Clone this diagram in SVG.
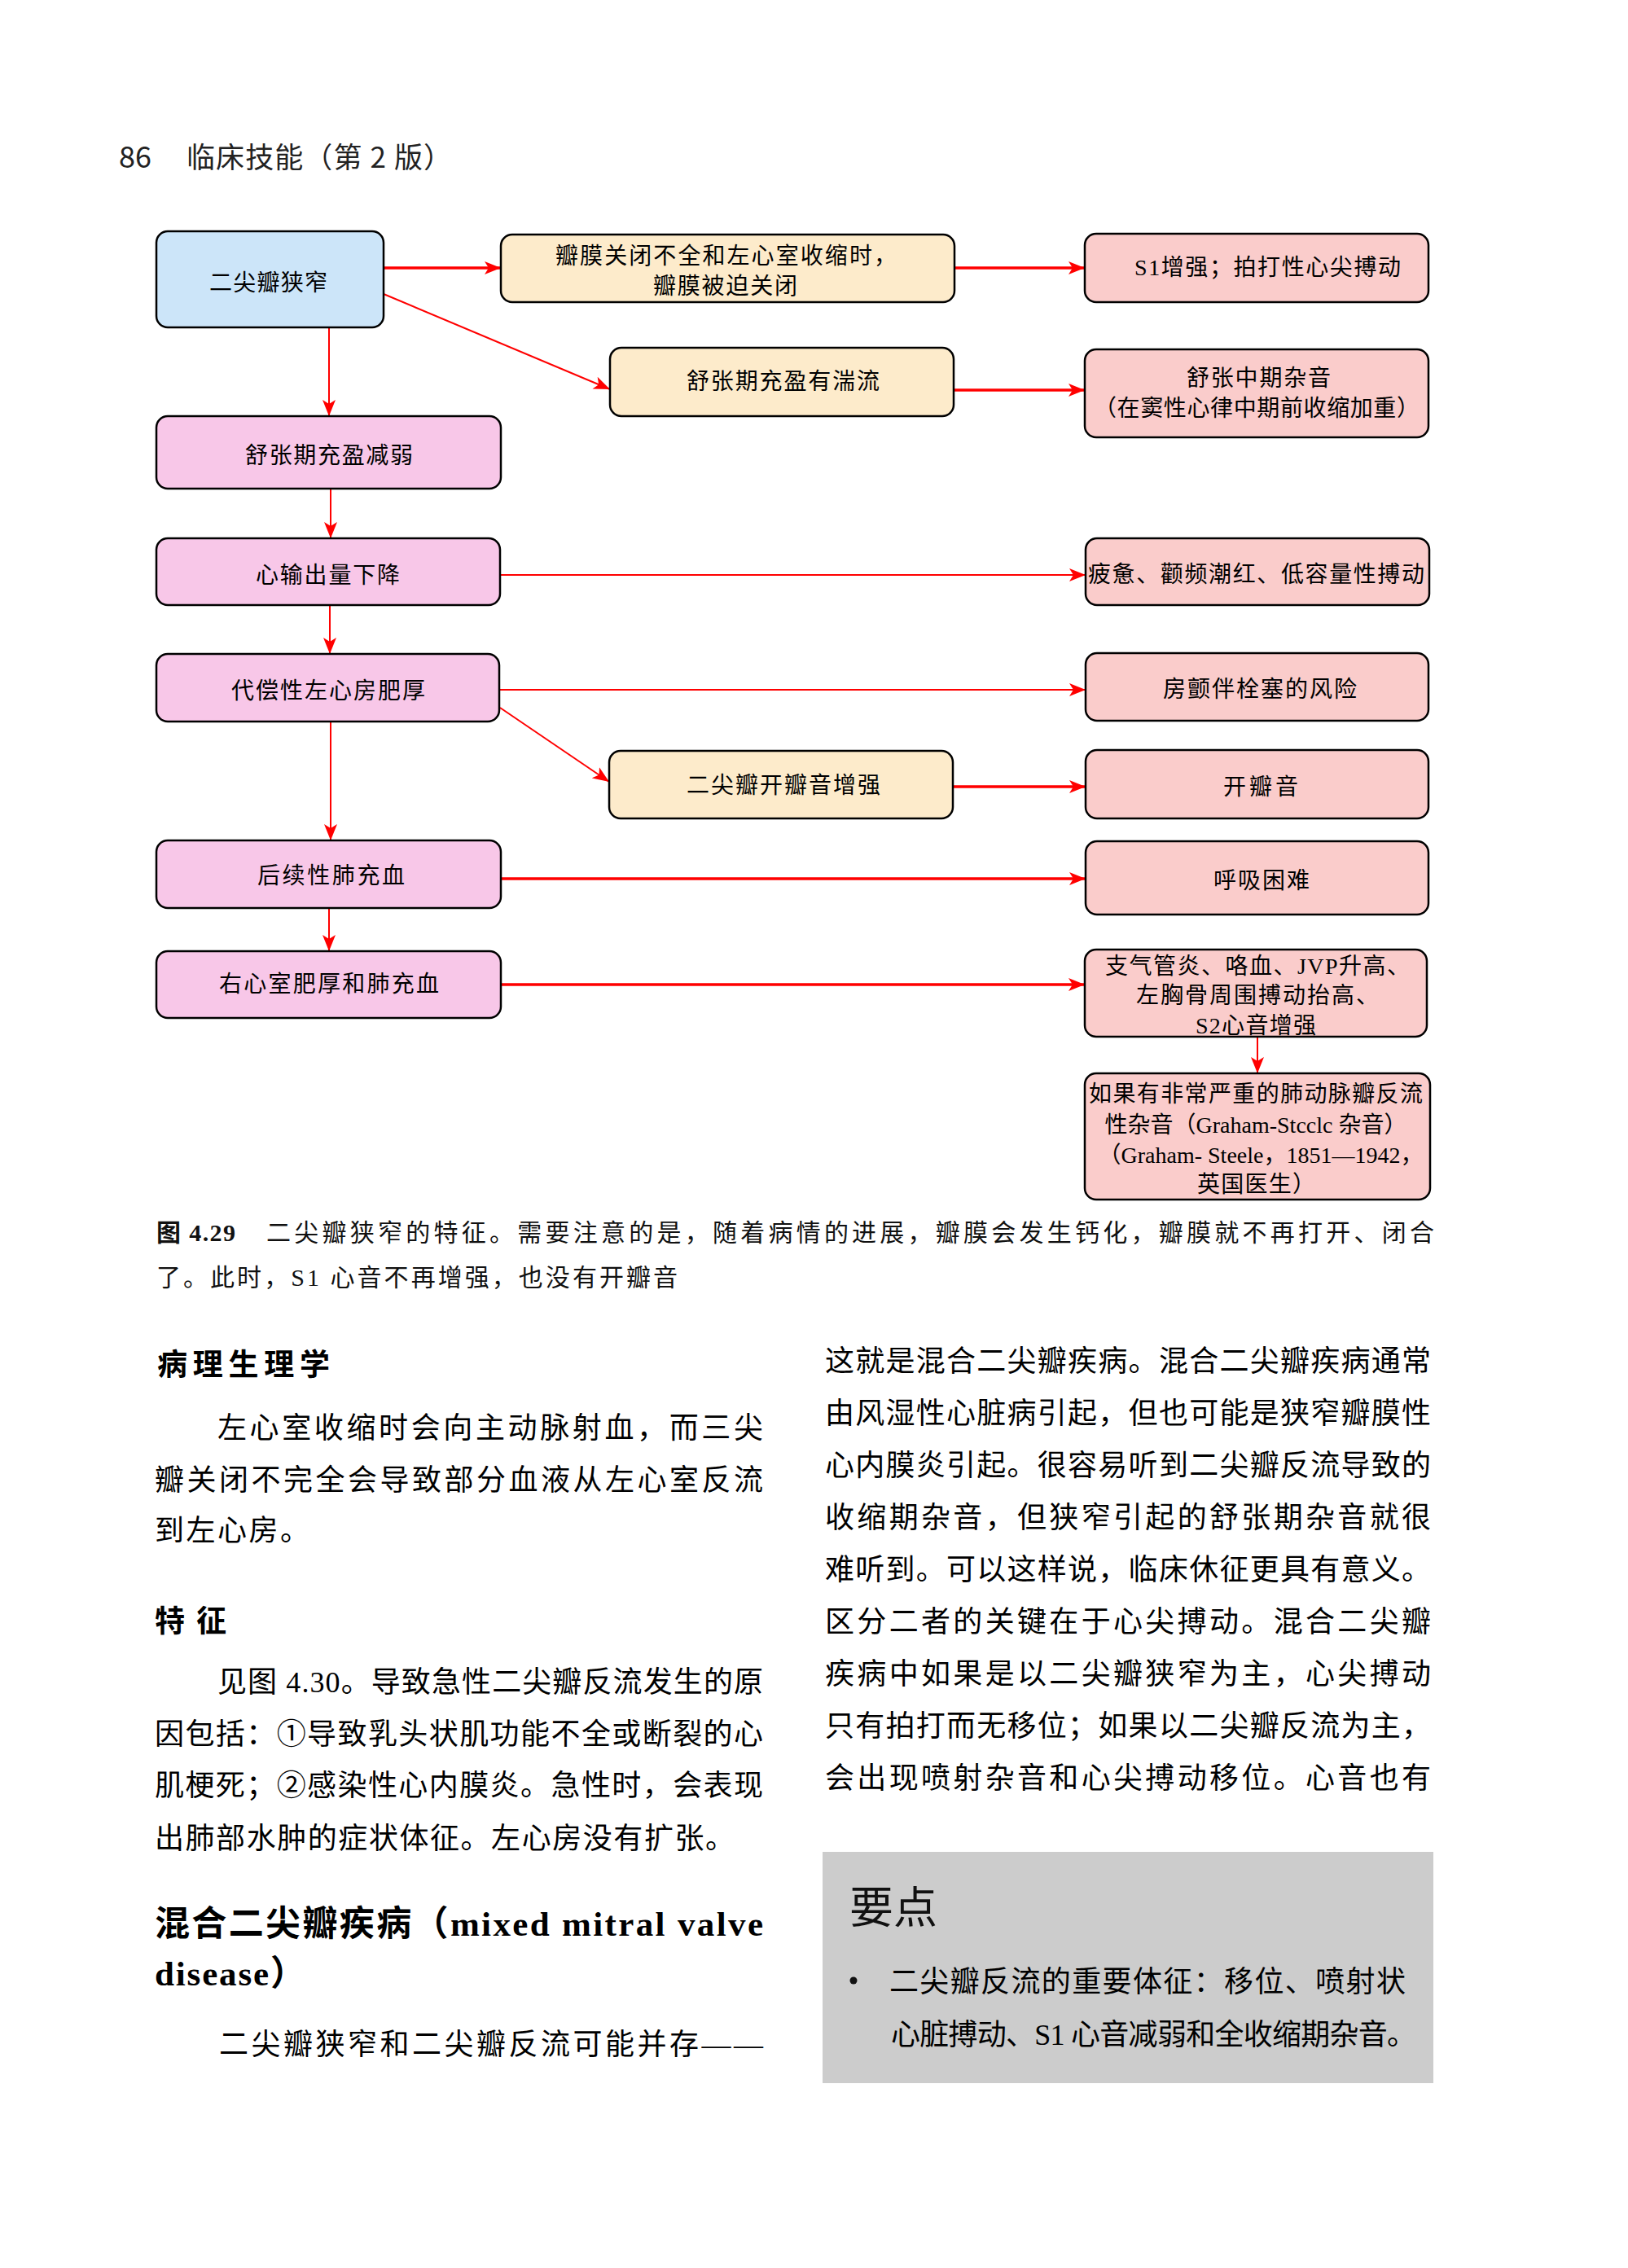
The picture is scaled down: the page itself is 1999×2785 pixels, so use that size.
<svg xmlns="http://www.w3.org/2000/svg" width="1999" height="2785" viewBox="0 0 1999 2785">
<style>
.nd{stroke:#000;stroke-width:2.5}
.blue{fill:#CCE5F9}
.cream{fill:#FDEBCB}
.pink{fill:#F8C7E8}
.salmon{fill:#FACCCB}
.t{font-family:"Liberation Serif","Noto Sans CJK SC",serif;font-size:28px;fill:#000}
.body{font-family:"Liberation Serif","Noto Sans CJK SC",serif;font-size:36px;fill:#000}
.cap{font-family:"Liberation Serif","Noto Sans CJK SC",serif;font-size:30px;fill:#111}
.hd{font-family:"Liberation Serif","Noto Sans CJK SC",serif;font-weight:bold;fill:#000}
.thin{stroke:#FF0000;stroke-width:2;fill:none}
.thick{stroke:#FF0000;stroke-width:3.5;fill:none}
</style>
<defs>
<marker id="ah" markerUnits="userSpaceOnUse" markerWidth="22" markerHeight="18" refX="20" refY="8" orient="auto" viewBox="0 0 22 16">
<path d="M0,0 L20,8 L0,16 L5,8 Z" fill="#FF0000"/>
</marker>
</defs>
<rect width="1999" height="2785" fill="#fff"/>

<!-- header -->
<text x="146" y="206" font-family="Noto Sans CJK SC,sans-serif" font-size="36" fill="#222">86</text>
<text x="229" y="206" font-family="Noto Sans CJK SC,sans-serif" font-size="35" fill="#222" textLength="326">临床技能（第 2 版）</text>

<!-- connectors -->
<g id="connectors">
<line class="thick" x1="471" y1="329" x2="615" y2="329" marker-end="url(#ah)"/>
<line class="thick" x1="1172" y1="329" x2="1332" y2="329" marker-end="url(#ah)"/>
<line class="thin" x1="471" y1="361" x2="749" y2="478" marker-end="url(#ah)"/>
<line class="thick" x1="1171" y1="479" x2="1332" y2="479" marker-end="url(#ah)"/>
<line class="thin" x1="404" y1="402" x2="404" y2="511" marker-end="url(#ah)"/>
<line class="thin" x1="406" y1="600" x2="406" y2="661" marker-end="url(#ah)"/>
<line class="thin" x1="614" y1="706" x2="1333" y2="706" marker-end="url(#ah)"/>
<line class="thin" x1="405" y1="743" x2="405" y2="803" marker-end="url(#ah)"/>
<line class="thin" x1="613" y1="847" x2="1333" y2="847" marker-end="url(#ah)"/>
<line class="thin" x1="614" y1="869" x2="748" y2="960" marker-end="url(#ah)"/>
<line class="thick" x1="1170" y1="966" x2="1333" y2="966" marker-end="url(#ah)"/>
<line class="thin" x1="406" y1="886" x2="406" y2="1032" marker-end="url(#ah)"/>
<line class="thick" x1="615" y1="1079" x2="1333" y2="1079" marker-end="url(#ah)"/>
<line class="thin" x1="404" y1="1115" x2="404" y2="1168" marker-end="url(#ah)"/>
<line class="thick" x1="615" y1="1209" x2="1332" y2="1209" marker-end="url(#ah)"/>
<line class="thin" x1="1544" y1="1273" x2="1544" y2="1318" marker-end="url(#ah)"/>
</g>

<!-- nodes -->
<g id="nodeA"><rect class="nd blue" x="192" y="284" width="279" height="118" rx="14"/>
<text class="t" x="257" y="357" textLength="145">二尖瓣狭窄</text></g>

<g id="nodeB"><rect class="nd cream" x="615" y="288" width="557" height="83" rx="14"/>
<text class="t" x="682" y="324" textLength="419">瓣膜关闭不全和左心室收缩时，</text>
<text class="t" x="802" y="361" textLength="177">瓣膜被迫关闭</text></g>

<g id="nodeC"><rect class="nd salmon" x="1332" y="287" width="422" height="84" rx="14"/>
<text class="t" x="1393" y="338" textLength="327">S1增强；拍打性心尖搏动</text></g>

<g id="nodeD"><rect class="nd cream" x="749" y="427" width="422" height="84" rx="14"/>
<text class="t" x="843" y="478" textLength="237">舒张期充盈有湍流</text></g>

<g id="nodeE"><rect class="nd salmon" x="1332" y="429" width="422" height="108" rx="14"/>
<text class="t" x="1457" y="474" textLength="177">舒张中期杂音</text>
<text class="t" x="1543" y="511" text-anchor="middle" textLength="400">（在窦性心律中期前收缩加重）</text></g>

<g id="nodeF"><rect class="nd pink" x="192" y="511" width="423" height="89" rx="14"/>
<text class="t" x="301" y="569" textLength="206">舒张期充盈减弱</text></g>

<g id="nodeG"><rect class="nd pink" x="192" y="661" width="422" height="82" rx="14"/>
<text class="t" x="314" y="716" textLength="177">心输出量下降</text></g>

<g id="nodeH"><rect class="nd salmon" x="1333" y="661" width="422" height="82" rx="14"/>
<text class="t" x="1336" y="715" textLength="413">疲惫、颧频潮红、低容量性搏动</text></g>

<g id="nodeI"><rect class="nd pink" x="192" y="803" width="421" height="83" rx="14"/>
<text class="t" x="284" y="858" textLength="238">代偿性左心房肥厚</text></g>

<g id="nodeJ"><rect class="nd salmon" x="1333" y="802" width="421" height="83" rx="14"/>
<text class="t" x="1428" y="856" textLength="238">房颤伴栓塞的风险</text></g>

<g id="nodeK"><rect class="nd cream" x="748" y="922" width="422" height="83" rx="14"/>
<text class="t" x="843" y="974" textLength="238">二尖瓣开瓣音增强</text></g>

<g id="nodeL"><rect class="nd salmon" x="1333" y="921" width="421" height="84" rx="14"/>
<text class="t" x="1502" y="976" textLength="92">开瓣音</text></g>

<g id="nodeM"><rect class="nd pink" x="192" y="1032" width="423" height="83" rx="14"/>
<text class="t" x="316" y="1085" textLength="181">后续性肺充血</text></g>

<g id="nodeN"><rect class="nd salmon" x="1333" y="1033" width="421" height="90" rx="14"/>
<text class="t" x="1490" y="1091" textLength="118">呼吸困难</text></g>

<g id="nodeO"><rect class="nd pink" x="192" y="1168" width="423" height="82" rx="14"/>
<text class="t" x="269" y="1218" textLength="270">右心室肥厚和肺充血</text></g>

<g id="nodeP"><rect class="nd salmon" x="1332" y="1166" width="420" height="107" rx="14"/>
<text class="t" x="1357" y="1196" textLength="374">支气管炎、咯血、JVP升高、</text>
<text class="t" x="1395" y="1232" textLength="298">左胸骨周围搏动抬高、</text>
<text class="t" x="1468" y="1269" textLength="148">S2心音增强</text></g>

<g id="nodeQ"><rect class="nd salmon" x="1332" y="1318" width="424" height="155" rx="14"/>
<text class="t" x="1337" y="1353" textLength="410">如果有非常严重的肺动脉瓣反流</text>
<text class="t" x="1542" y="1391" text-anchor="middle">性杂音（Graham-Stcclc 杂音）</text>
<text class="t" x="1548" y="1428" text-anchor="middle">（Graham- Steele，1851—1942，</text>
<text class="t" x="1470" y="1464" textLength="145">英国医生）</text></g>

<!-- caption -->
<text class="cap" x="192" y="1524" font-weight="bold" textLength="97">图 4.29</text>
<text class="cap" x="327" y="1524" textLength="1434">二尖瓣狭窄的特征。需要注意的是，随着病情的进展，瓣膜会发生钙化，瓣膜就不再打开、闭合</text>
<text class="cap" x="192" y="1579" textLength="640">了。此时，S1 心音不再增强，也没有开瓣音</text>

<!-- left column -->
<text class="hd" x="193" y="1689" font-size="37" textLength="212">病理生理学</text>
<text class="body" x="267" y="1766" textLength="670">左心室收缩时会向主动脉射血，而三尖</text>
<text class="body" x="190" y="1830" textLength="747">瓣关闭不完全会导致部分血液从左心室反流</text>
<text class="body" x="190" y="1892" textLength="190">到左心房。</text>
<text class="hd" x="190" y="2004" font-size="37" textLength="88">特征</text>
<text class="body" x="267" y="2078" textLength="670">见图 4.30。导致急性二尖瓣反流发生的原</text>
<text class="body" x="190" y="2142" textLength="747">因包括：①导致乳头状肌功能不全或断裂的心</text>
<text class="body" x="190" y="2205" textLength="747">肌梗死；②感染性心内膜炎。急性时，会表现</text>
<text class="body" x="190" y="2270" textLength="712">出肺部水肿的症状体征。左心房没有扩张。</text>
<text class="hd" x="190" y="2377" font-size="43" textLength="747">混合二尖瓣疾病（mixed mitral valve</text>
<text class="hd" x="190" y="2438" font-size="43" textLength="185">disease）</text>
<text class="body" x="269" y="2523" textLength="668">二尖瓣狭窄和二尖瓣反流可能并存——</text>

<!-- right column -->
<text class="body" x="1013" y="1684" textLength="744">这就是混合二尖瓣疾病。混合二尖瓣疾病通常</text>
<text class="body" x="1013" y="1748" textLength="744">由风湿性心脏病引起，但也可能是狭窄瓣膜性</text>
<text class="body" x="1013" y="1812" textLength="744">心内膜炎引起。很容易听到二尖瓣反流导致的</text>
<text class="body" x="1013" y="1876" textLength="744">收缩期杂音，但狭窄引起的舒张期杂音就很</text>
<text class="body" x="1013" y="1940" textLength="744">难听到。可以这样说，临床休征更具有意义。</text>
<text class="body" x="1013" y="2004" textLength="744">区分二者的关键在于心尖搏动。混合二尖瓣</text>
<text class="body" x="1013" y="2068" textLength="744">疾病中如果是以二尖瓣狭窄为主，心尖搏动</text>
<text class="body" x="1013" y="2132" textLength="744">只有拍打而无移位；如果以二尖瓣反流为主，</text>
<text class="body" x="1013" y="2196" textLength="744">会出现喷射杂音和心尖搏动移位。心音也有</text>

<!-- key points box -->
<rect x="1010" y="2274" width="750" height="284" fill="#CCCCCC"/>
<text x="1043" y="2362" font-family="Noto Sans CJK SC,sans-serif" font-size="54" fill="#111">要点</text>
<circle cx="1048" cy="2432" r="4.5" fill="#111"/>
<text class="body" x="1092" y="2446" textLength="634">二尖瓣反流的重要体征：移位、喷射状</text>
<text class="body" x="1094" y="2511" textLength="645">心脏搏动、S1 心音减弱和全收缩期杂音。</text>
</svg>
